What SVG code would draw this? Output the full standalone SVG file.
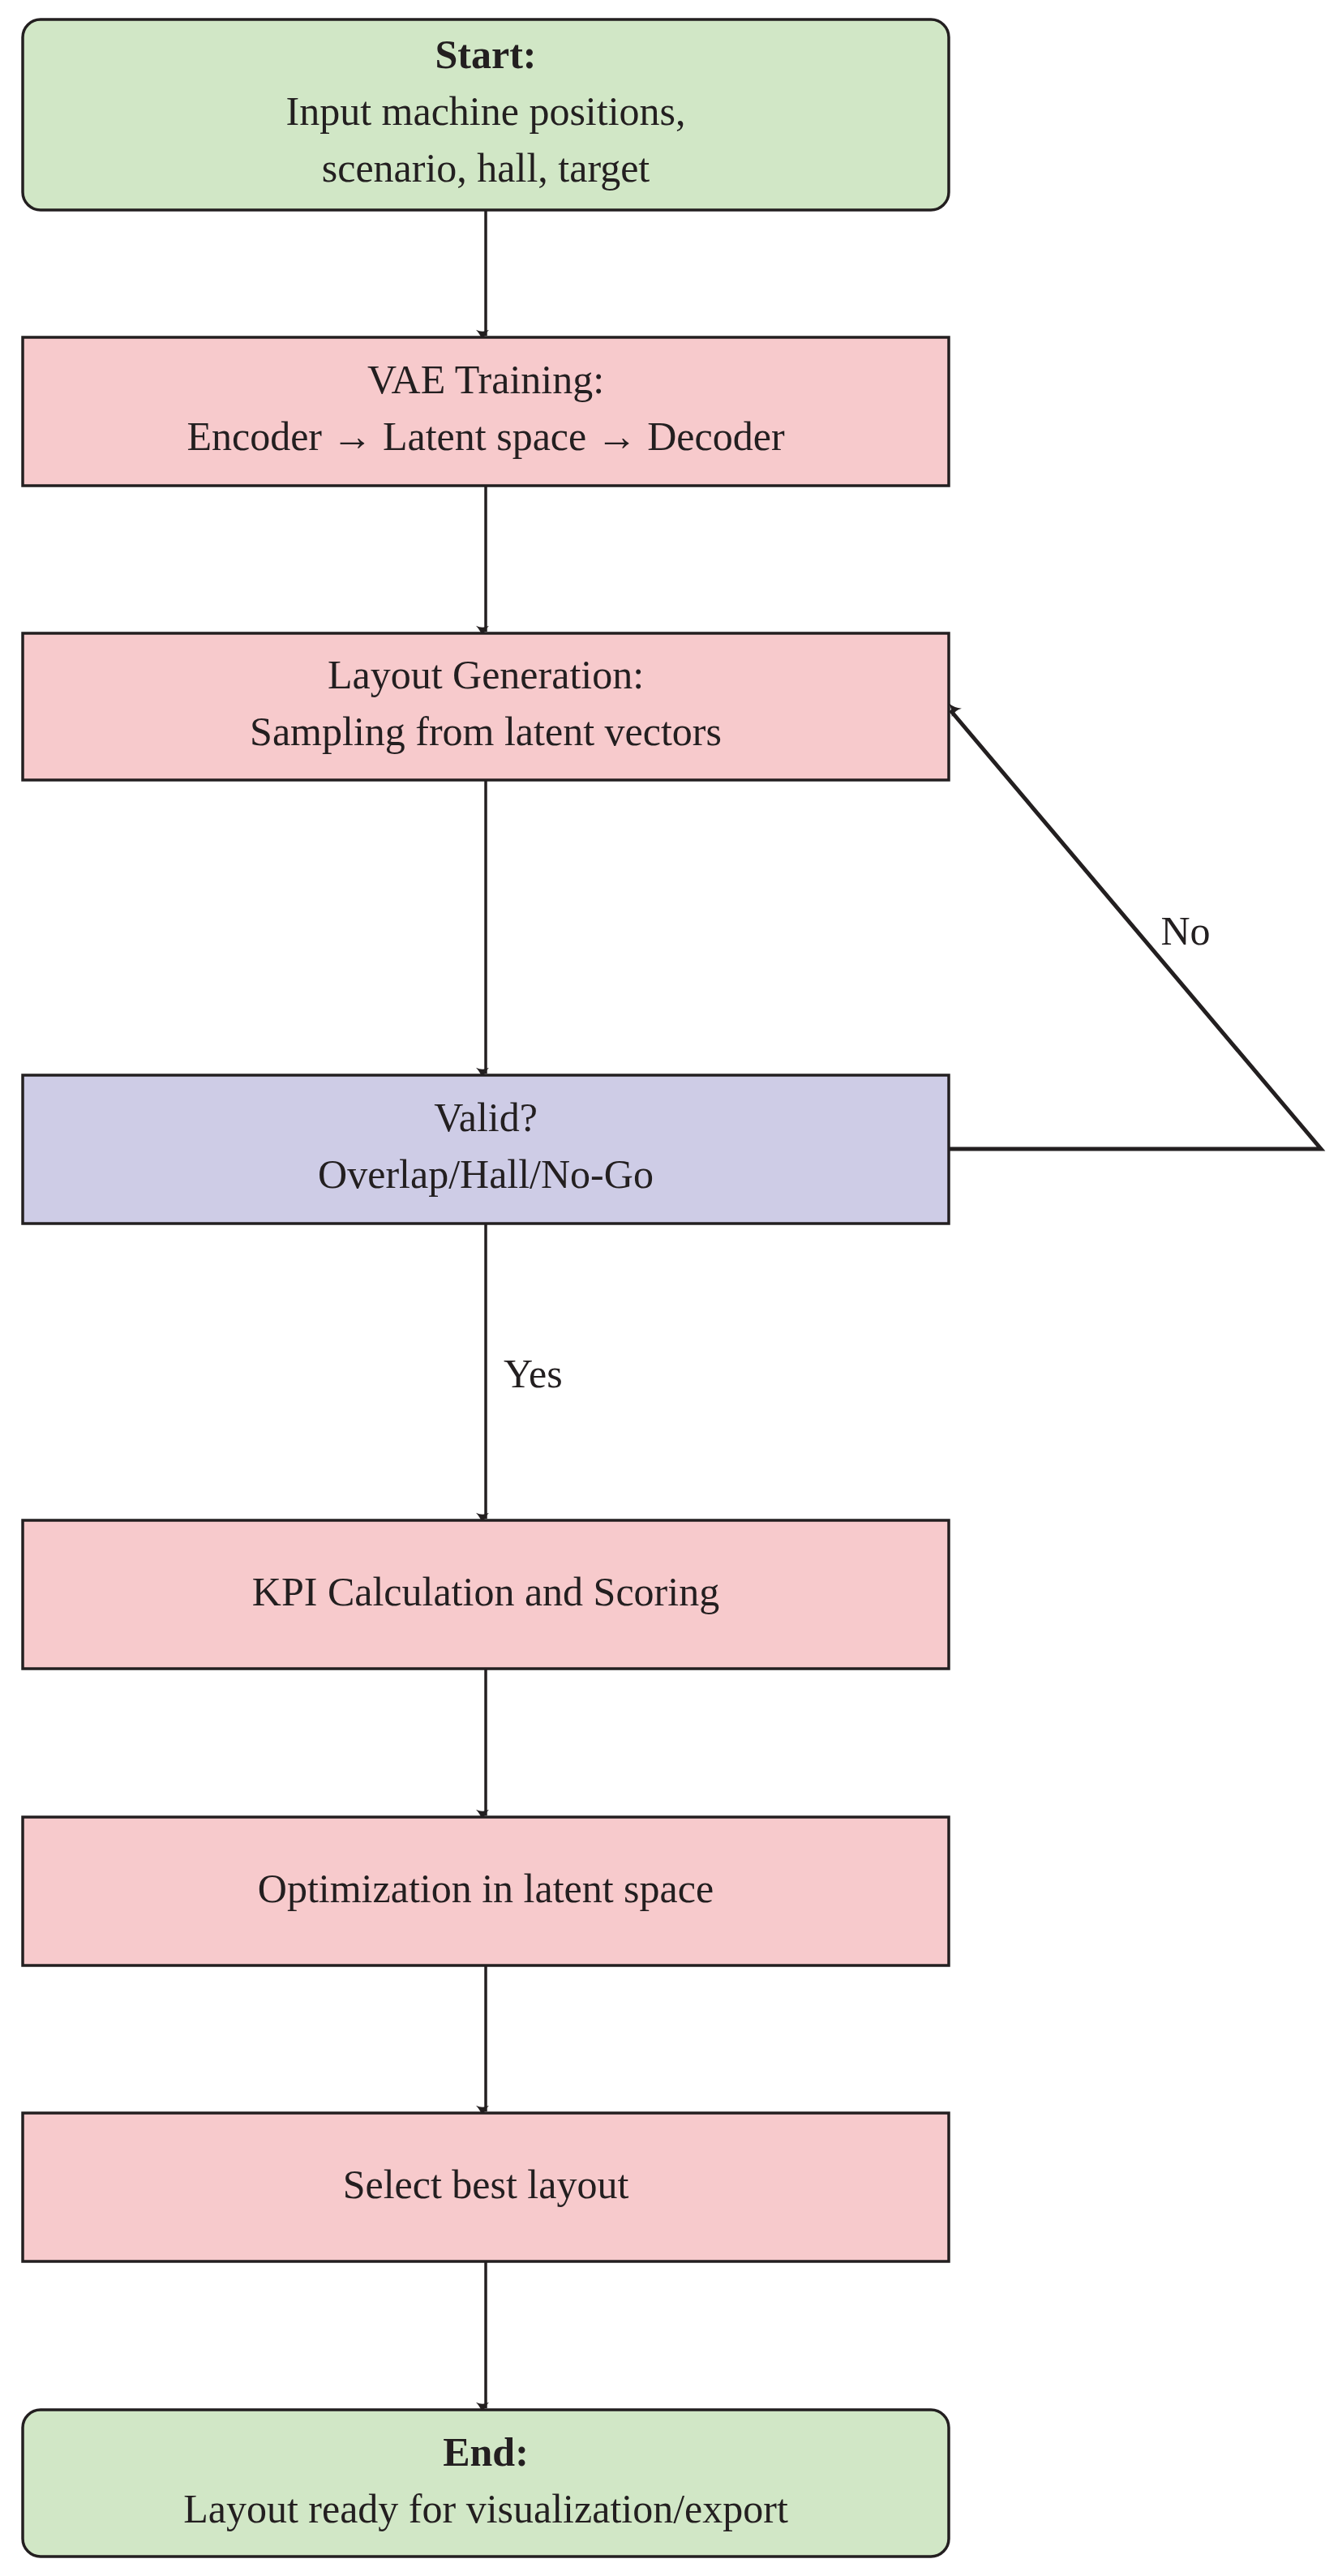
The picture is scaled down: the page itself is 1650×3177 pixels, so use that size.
<svg xmlns="http://www.w3.org/2000/svg" width="1650" height="3177" viewBox="0 0 1650 3177">
<style>
.t{font-family:"Liberation Serif","DejaVu Serif",serif;font-size:50px;fill:#231f20;text-anchor:middle}
.b{font-weight:bold}
.g{fill:#d1e7c6;stroke:#231f20;stroke-width:3.5}
.p{fill:#f7cacc;stroke:#231f20;stroke-width:3.5}
.v{fill:#cecce6;stroke:#231f20;stroke-width:3.5}
.c{fill:none;stroke:#231f20;stroke-width:3.5}
</style>
<defs>
<marker id="a" viewBox="0 0 12 12" refX="11" refY="6" markerWidth="8" markerHeight="8" markerUnits="userSpaceOnUse" orient="auto" style="overflow:visible">
<path d="M0,0 Q5,5 12,6 Q5,7 0,12 Q3,6 0,0Z" fill="#231f20" transform="scale(2)"/>
</marker>
</defs>
<g id="connectors">
<line class="c" x1="599" y1="260" x2="599" y2="414" marker-end="url(#a)"/>
<line class="c" x1="599" y1="599" x2="599" y2="779" marker-end="url(#a)"/>
<line class="c" x1="599" y1="962" x2="599" y2="1324" marker-end="url(#a)"/>
<line class="c" x1="599" y1="1509" x2="599" y2="1873" marker-end="url(#a)"/>
<line class="c" x1="599" y1="2058" x2="599" y2="2239" marker-end="url(#a)"/>
<line class="c" x1="599" y1="2424" x2="599" y2="2604" marker-end="url(#a)"/>
<line class="c" x1="599" y1="2789" x2="599" y2="2970" marker-end="url(#a)"/>
<polyline class="c" style="stroke-width:5" points="1170,1417 1629,1417 1172,876" marker-end="url(#a)"/>
<text class="t" x="1462" y="1165">No</text>
<text class="t" x="621" y="1711" style="text-anchor:start">Yes</text>
</g>
<g id="start"><rect class="g" x="28" y="24" width="1142" height="235" rx="22"/>
<text class="t b" x="599" y="84">Start:</text>
<text class="t" x="599" y="154">Input machine positions,</text>
<text class="t" x="599" y="224">scenario, hall, target</text></g>
<g id="vae"><rect class="p" x="28" y="416" width="1142" height="183"/>
<text class="t" x="599" y="485">VAE Training:</text>
<text class="t" x="599" y="555">Encoder → Latent space → Decoder</text></g>
<g id="layout"><rect class="p" x="28" y="781" width="1142" height="181"/>
<text class="t" x="599" y="849">Layout Generation:</text>
<text class="t" x="599" y="919">Sampling from latent vectors</text></g>
<g id="valid"><rect class="v" x="28" y="1326" width="1142" height="183"/>
<text class="t" x="599" y="1395">Valid?</text>
<text class="t" x="599" y="1465">Overlap/Hall/No-Go</text></g>
<g id="kpi"><rect class="p" x="28" y="1875" width="1142" height="183"/>
<text class="t" x="599" y="1980">KPI Calculation and Scoring</text></g>
<g id="opt"><rect class="p" x="28" y="2241" width="1142" height="183"/>
<text class="t" x="599" y="2346">Optimization in latent space</text></g>
<g id="select"><rect class="p" x="28" y="2606" width="1142" height="183"/>
<text class="t" x="599" y="2711">Select best layout</text></g>
<g id="end"><rect class="g" x="28" y="2972" width="1142" height="181" rx="22"/>
<text class="t b" x="599" y="3041">End:</text>
<text class="t" x="599" y="3111">Layout ready for visualization/export</text></g>
</svg>
